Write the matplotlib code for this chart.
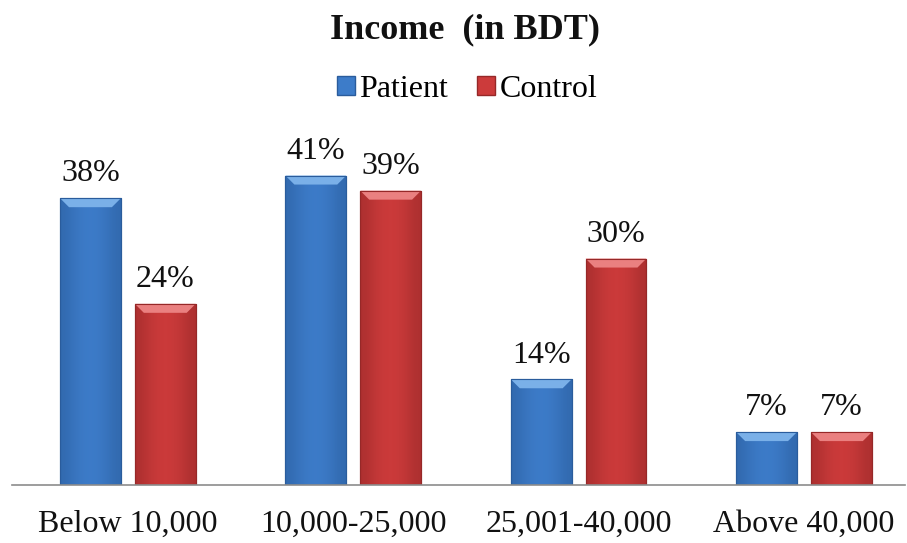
import numpy as np
import matplotlib
matplotlib.use('Agg')
import matplotlib.pyplot as plt
from matplotlib.patches import Polygon, Rectangle

categories = ['Below 10,000', '10,000-25,000', '25,001-40,000', 'Above 40,000']
patient = [38, 41, 14, 7]
control = [24, 39, 30, 7]
series_names = ['Patient', 'Control']

blue = dict(base='#3d7cc9', light='#7ab0e8', dark='#2a5c9c')
red = dict(base='#cc3b3b', light='#ea8080', dark='#962828')

plt.rcParams['font.family'] = ['Liberation Serif', 'DejaVu Serif']

fig = plt.figure(figsize=(9.07, 5.43), dpi=100)
ax = fig.add_axes([0.013, 0.107, 0.985, 0.635])

x = np.arange(len(categories))
bw = 0.27
gap = 0.062

bars_p = ax.bar(x - (bw + gap) / 2, patient, bw, color=blue['base'],
                edgecolor=blue['dark'], linewidth=0.8, zorder=2)
bars_c = ax.bar(x + (bw + gap) / 2, control, bw, color=red['base'],
                edgecolor=red['dark'], linewidth=0.8, zorder=2)

ax.set_xlim(-0.515, 3.449)
ax.set_ylim(0, 45.7)

# bevel size in data units (about 9 px each way)
fig.canvas.draw()
p0 = ax.transData.transform((0, 0))
p1 = ax.transData.transform((1, 1))
dx = 9 / (p1[0] - p0[0])
dy = 9 / (p1[1] - p0[1])


def bevel(bars, cols):
    shade = np.array([0.0, 0.35, 0.6, 0.7, 0.6, 0.35, 0.0])[None, :]
    cmap = matplotlib.colors.LinearSegmentedColormap.from_list(
        'g', [cols['dark'], cols['base']])
    for b in bars:
        bx, by = b.get_x(), b.get_y()
        w, h = b.get_width(), b.get_height()
        # soft horizontal shading across the face
        img = ax.imshow(shade, extent=(bx, bx + w, by, by + h), aspect='auto',
                        cmap=cmap, alpha=0.55, zorder=2.1, interpolation='bicubic')
        img.set_clip_path(b)
        # lighter top face
        top = Polygon([(bx, h), (bx + w, h), (bx + w - dx, h - dy), (bx + dx, h - dy)],
                      closed=True, facecolor=cols['light'], edgecolor='none', zorder=2.2)
        ax.add_patch(top)
        # darker outline over everything
        ax.add_patch(Rectangle((bx, by), w, h, facecolor='none',
                               edgecolor=cols['dark'], linewidth=0.8, zorder=2.3))


bevel(bars_p, blue)
bevel(bars_c, red)

for bars, vals in ((bars_p, patient), (bars_c, control)):
    for b, v in zip(bars, vals):
        ax.annotate(f'{v}%', (b.get_x() + b.get_width() / 2, v),
                    xytext=(0, 7), textcoords='offset points',
                    ha='center', va='bottom', fontsize=23, color='#111111')

ax.set_xticks(x)
ax.set_xticklabels(categories, fontsize=23, color='#111111')
ax.tick_params(axis='x', length=0, pad=18)
ax.set_yticks([])
for s in ('top', 'right', 'left'):
    ax.spines[s].set_visible(False)
ax.spines['bottom'].set_color('#8c8c8c')
ax.spines['bottom'].set_linewidth(1.2)

fig.text(0.513, 0.945, 'Income  (in BDT)', ha='center', va='center',
         fontsize=26, fontweight='bold', color='#111111')

# legend
handles = [Rectangle((0, 0), 1, 1, facecolor=c['base'], edgecolor=c['dark'])
           for c in (blue, red)]
fig.legend(handles, series_names, loc='center', bbox_to_anchor=(0.515, 0.836),
           ncol=2, frameon=False, fontsize=23, handlelength=0.55, handleheight=0.55,
           handletextpad=0.15, columnspacing=0.9)

fig.savefig('out.png', dpi=100)
